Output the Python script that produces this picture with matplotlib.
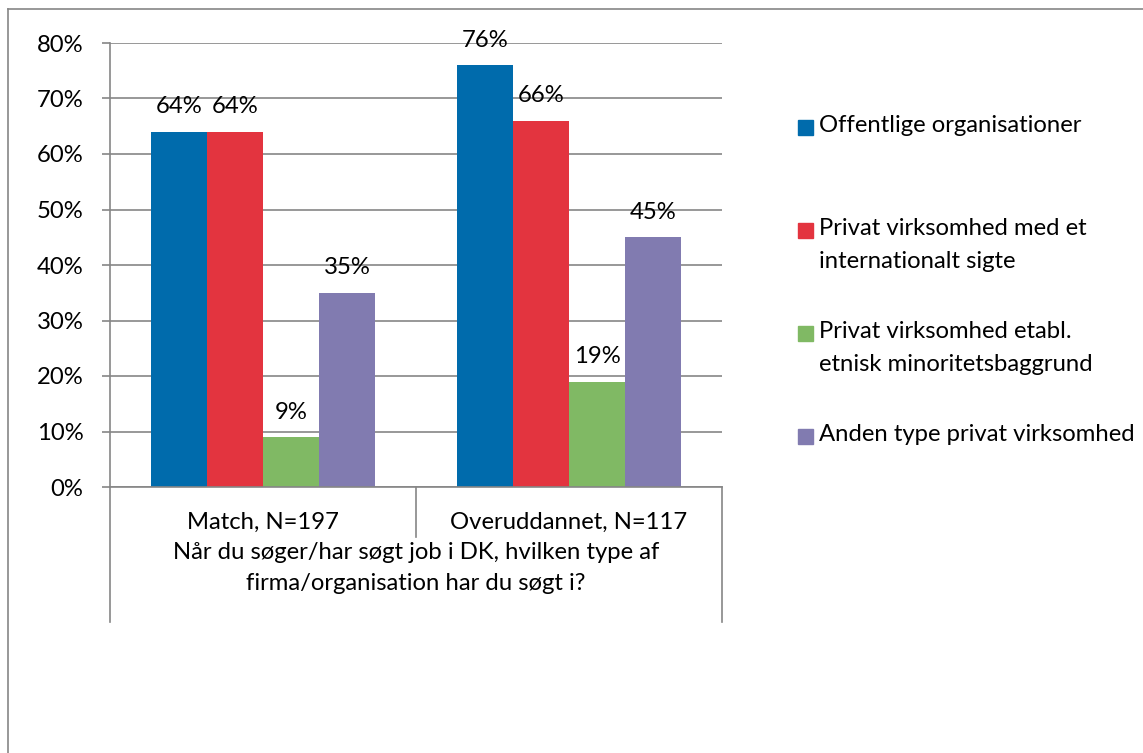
import matplotlib.pyplot as plt
import numpy as np
from matplotlib.lines import Line2D
from matplotlib.patches import Rectangle
from matplotlib.ticker import FuncFormatter

plt.rcParams['font.family'] = ['Lato', 'DejaVu Sans']

groups = ['Match, N=197', 'Overuddannet, N=117']
series = ['Offentlige organisationer',
          'Privat virksomhed med et\ninternationalt sigte',
          'Privat virksomhed etabl.\netnisk minoritetsbaggrund',
          'Anden type privat virksomhed']
values = [[64, 76],
          [64, 66],
          [9, 19],
          [35, 45]]
colors = ['#006BAC', '#E3343F', '#80B964', '#817BB0']
question = 'Når du søger/har søgt job i DK, hvilken type af\nfirma/organisation har du søgt i?'

W, H = 1143, 753
fig = plt.figure(figsize=(W / 100, H / 100), dpi=100)
ax = fig.add_axes([110 / W, 1 - 487 / H, 612 / W, 444 / H])

fs = 17.2
grid_c = '#868686'
width = 56 / 306
x = np.arange(len(groups))
for i, (name, vals, col) in enumerate(zip(series, values, colors)):
    pos = x + (i - 1.5) * width
    v = np.array(vals) / 100
    ax.bar(pos, v, width, color=col, zorder=3)
    for px, pv in zip(pos, v):
        ax.annotate(f'{pv * 100:.0f}%', (px, pv), xytext=(0, 25), textcoords='offset pixels',
                    ha='center', va='center', fontsize=fs, zorder=4)

ax.set_xlim(-0.5, 1.5)
ax.set_ylim(0, 0.8)
ax.set_yticks(np.arange(0, 0.81, 0.1))
ax.yaxis.set_major_formatter(FuncFormatter(lambda v, p: f'{v * 100:.0f}%'))
ax.yaxis.grid(True, color=grid_c, linewidth=1.2, zorder=0)
ax.set_xticks([])
ax.tick_params(axis='y', length=6, width=1.2, color=grid_c, pad=13, labelsize=fs)
for s in ['top', 'right']:
    ax.spines[s].set_visible(False)
for s in ['left', 'bottom']:
    ax.spines[s].set_color(grid_c)
    ax.spines[s].set_linewidth(1.2)
    ax.spines[s].set_zorder(5)

# multi-level category axis below the plot
tr = ax.get_xaxis_transform()
px2ax = 1 / 444
for xb, depth in [(-0.5, 135), (0.5, 50), (1.5, 135)]:
    ax.add_line(Line2D([xb, xb], [0, -depth * px2ax], transform=tr, color=grid_c,
                       linewidth=1.2, clip_on=False))
for xi, g in zip(x, groups):
    ax.text(xi, -35 * px2ax, g, transform=tr, ha='center', va='center', fontsize=fs)
ax.text(0.5, -81 * px2ax, question, transform=tr, ha='center', va='center',
        fontsize=fs, linespacing=1.6)

# legend
for i, (name, col) in enumerate(zip(series, colors)):
    yc = 127 + i * 103
    fig.add_artist(Rectangle((798 / W, 1 - (yc + 7.5) / H), 15 / W, 15 / H,
                             transform=fig.transFigure, color=col))
    fig.text(819 / W, 1 - (yc - 12) / H, name, ha='left', va='top', fontsize=fs,
             linespacing=1.7)

# chart area border
fig.add_artist(Line2D([8 / W, 8 / W], [0, 1 - 9 / H], transform=fig.transFigure,
                      color=grid_c, linewidth=1.2))
fig.add_artist(Line2D([8 / W, 1], [1 - 9 / H, 1 - 9 / H], transform=fig.transFigure,
                      color=grid_c, linewidth=1.2))

fig.savefig('out.png', dpi=100)
